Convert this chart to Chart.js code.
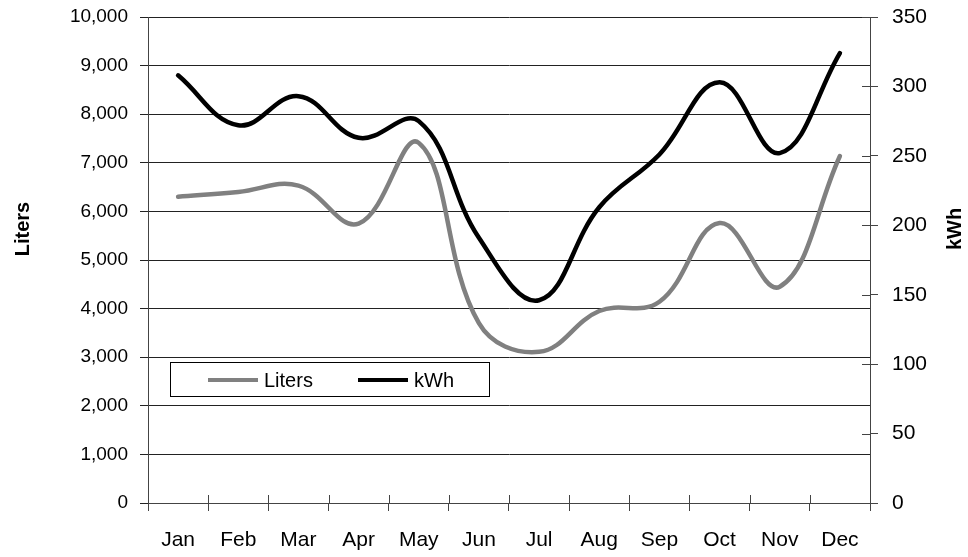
<!DOCTYPE html>
<html>
<head>
<meta charset="utf-8">
<script src="https://cdn.jsdelivr.net/npm/chart.js@4/dist/chart.umd.min.js"></script>
<style>
  html, body { margin: 0; padding: 0; background: #fff; }
  #wrap { width: 968px; height: 557px; }
</style>
</head>
<body>
<div id="wrap"><canvas id="chart" width="968" height="557"></canvas></div>
<script>
// data
var months = ['Jan', 'Feb', 'Mar', 'Apr', 'May', 'Jun', 'Jul', 'Aug', 'Sep', 'Oct', 'Nov', 'Dec']
var liters = [6300, 6400, 6530, 5750, 7410, 3700, 3110, 3950, 4140, 5760, 4450, 7140]
var kwh = [308, 272, 293, 263, 275, 191, 146, 213, 251, 303, 252, 324]

var FONT = 'Arial, "Liberation Sans", sans-serif'

// legend box inside the plot, drawn from the datasets
var boxLegend = {
  id: 'boxLegend',
  afterDraw (chart) {
    var ctx = chart.ctx
    var x = chart.scales.x
    var y = chart.scales.y
    var left = x.left + 22
    var top = Math.round(y.getPixelForValue(2900))
    ctx.save()
    ctx.strokeStyle = '#000'
    ctx.lineWidth = 1
    ctx.strokeRect(left + 0.5, top + 0.5, 319, 34)
    ctx.font = '20px ' + FONT
    ctx.textBaseline = 'middle'
    var items = [[left + 38, 0], [left + 188, 1]]
    items.forEach(function (it) {
      var ds = chart.data.datasets[it[1]]
      ctx.strokeStyle = ds.borderColor
      ctx.lineWidth = 4
      ctx.beginPath()
      ctx.moveTo(it[0], top + 18)
      ctx.lineTo(it[0] + 50, top + 18)
      ctx.stroke()
      ctx.fillStyle = '#000'
      ctx.fillText(ds.label, it[0] + 56, top + 19)
    })
    ctx.restore()
  }
}

// tick marks that cross the axis line, and the two axis titles
var axisExtras = {
  id: 'axisExtras',
  afterDraw (chart) {
    var ctx = chart.ctx
    var x = chart.scales.x
    var y1 = chart.scales.y1
    var step = x.getPixelForValue(1) - x.getPixelForValue(0)
    ctx.save()
    ctx.strokeStyle = '#444'
    ctx.lineWidth = 1
    ctx.beginPath()
    for (var i = 0; i <= months.length; i++) {
      var px = Math.round(x.getPixelForValue(i) - step / 2) + 0.5
      ctx.moveTo(px, x.top)
      ctx.lineTo(px, x.top - 8)
    }
    y1.ticks.forEach(function (t) {
      var py = Math.round(y1.getPixelForValue(t.value)) + 0.5
      ctx.moveTo(y1.left, py)
      ctx.lineTo(y1.left - 8, py)
    })
    ctx.stroke()

    ctx.fillStyle = '#000'
    ctx.font = 'bold 20px ' + FONT
    ctx.textAlign = 'center'
    ctx.textBaseline = 'middle'
    ;[['Liters', 23], ['kWh', 955]].forEach(function (t) {
      ctx.save()
      ctx.translate(t[1], 229)
      ctx.rotate(-Math.PI / 2)
      ctx.fillText(t[0], 0, 0)
      ctx.restore()
    })
    ctx.restore()
  }
}

function fixWidth (w) {
  return function (s) {
    s.width = w
    s.paddingTop = 0
    s.paddingBottom = 0
  }
}

new Chart(document.getElementById('chart'), {
  type: 'line',
  data: {
    labels: months,
    datasets: [{
      label: 'Liters',
      data: liters,
      yAxisID: 'y',
      borderColor: '#808080',
      borderWidth: 4.5,
      pointRadius: 0,
      tension: 0.4,
      borderCapStyle: 'round'
    }, {
      label: 'kWh',
      data: kwh,
      yAxisID: 'y1',
      borderColor: '#000000',
      borderWidth: 4.5,
      pointRadius: 0,
      tension: 0.4,
      borderCapStyle: 'round'
    }]
  },
  options: {
    responsive: false,
    animation: false,
    layout: { padding: { top: 17, right: 0, left: 0, bottom: 0 } },
    plugins: {
      legend: { display: false },
      tooltip: { enabled: false }
    },
    scales: {
      x: {
        offset: true,
        afterFit (s) { s.height = 54; s.paddingLeft = 0; s.paddingRight = 0 },
        grid: { offset: true, drawOnChartArea: false, color: '#444', tickLength: 8 },
        border: { color: '#444' },
        ticks: { color: '#000', font: { family: FONT, size: 21 }, padding: 17, maxRotation: 0, autoSkip: false }
      },
      y: {
        position: 'left',
        min: 0,
        max: 10000,
        afterFit: fixWidth(148),
        grid: { color: '#222', tickLength: 8 },
        border: { color: '#444' },
        ticks: {
          stepSize: 1000,
          color: '#000',
          padding: 12,
          font: { family: FONT, size: 19 },
          callback: function (v) { return v.toLocaleString('en-US') }
        }
      },
      y1: {
        position: 'right',
        min: 0,
        max: 350,
        afterFit: fixWidth(98),
        grid: { drawOnChartArea: false, color: '#444', tickLength: 8 },
        border: { color: '#444' },
        ticks: { stepSize: 50, color: '#000', padding: 14, font: { family: FONT, size: 21 } }
      }
    }
  },
  plugins: [boxLegend, axisExtras]
})
</script>
</body>
</html>
